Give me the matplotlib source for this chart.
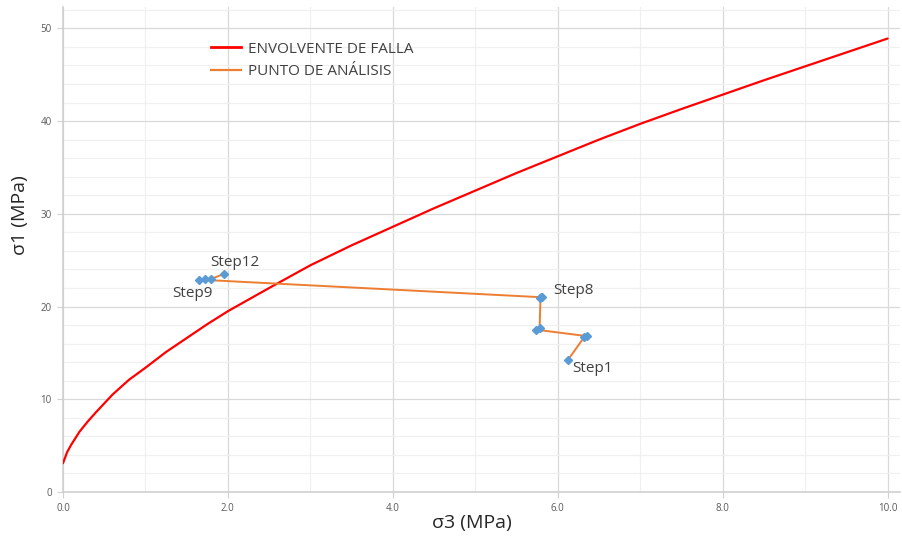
import matplotlib
matplotlib.use("Agg")
import matplotlib.pyplot as plt
from matplotlib.lines import Line2D
from matplotlib.ticker import MultipleLocator, FormatStrFormatter

plt.rcParams['font.family'] = ['Open Sans', 'DejaVu Sans']

# Failure envelope (sigma3, sigma1) in MPa
env_s3 = [0.0, 0.05, 0.1, 0.2, 0.3, 0.4, 0.6, 0.8, 1.0, 1.25, 1.5, 1.75, 2.0, 2.5, 3.0,
          3.5, 4.0, 4.5, 5.0, 5.5, 6.0, 6.5, 7.0, 7.5, 8.0, 8.5, 9.0, 9.5, 10.0]
env_s1 = [3.1, 4.3, 5.1, 6.5, 7.6, 8.6, 10.5, 12.1, 13.4, 15.1, 16.6, 18.1, 19.5, 22.0, 24.45,
          26.6, 28.6, 30.6, 32.5, 34.4, 36.2, 38.0, 39.7, 41.3, 42.85, 44.4, 45.9, 47.4, 48.9]

# Analysis points, Step1 .. Step12
pt_s3 = [6.12, 6.32, 6.36, 5.74, 5.78, 5.79, 5.80, 5.81, 1.65, 1.72, 1.80, 1.95]
pt_s1 = [14.2, 16.7, 16.8, 17.5, 17.7, 20.9, 21.0, 21.0, 22.9, 22.95, 23.0, 23.5]

step_labels = {0: "Step1", 7: "Step8", 8: "Step9", 11: "Step12"}
# label offsets in pixels from the marker
label_offsets = {0: (5, -8), 7: (11, 7), 8: (-27, -14), 11: (-14, 12)}

fig = plt.figure(figsize=(9.02, 5.38), dpi=100)
ax = fig.add_axes([63 / 902, 1 - 492 / 538, 837 / 902, 485 / 538])

ax.plot(env_s3, env_s1, color="#FF0000", lw=1.6, zorder=3, solid_capstyle="round")
ax.plot(pt_s3, pt_s1, color="#ED7D31", lw=1.4, zorder=4,
        marker="D", markersize=4.2, markerfacecolor="#5B9BD5", markeredgecolor="#5B9BD5")

for i, txt in step_labels.items():
    dx, dy = label_offsets[i]
    ax.annotate(txt, (pt_s3[i], pt_s1[i]), xytext=(dx, dy), textcoords="offset pixels",
                fontsize=11, color="#404040", ha="left", va="center", zorder=5)

ax.set_xlim(0, 10.15)
ax.set_ylim(0, 52.3)
ax.xaxis.set_major_locator(MultipleLocator(2))
ax.xaxis.set_minor_locator(MultipleLocator(1))
ax.yaxis.set_major_locator(MultipleLocator(10))
ax.yaxis.set_minor_locator(MultipleLocator(2))
ax.xaxis.set_major_formatter(FormatStrFormatter("%.1f"))
ax.yaxis.set_major_formatter(FormatStrFormatter("%d"))

ax.grid(which="major", color="#D9D9D9", lw=0.9, zorder=0)
ax.grid(which="minor", color="#F0F0F0", lw=0.9, zorder=0)
ax.set_axisbelow(True)

for side in ["top", "right"]:
    ax.spines[side].set_visible(False)
for side in ["left", "bottom"]:
    ax.spines[side].set_color("#D0D0D0")
    ax.spines[side].set_linewidth(1.2)

ax.tick_params(which="major", length=4, color="#D0D0D0", labelsize=7, labelcolor="#595959", pad=4)
ax.tick_params(which="minor", length=0)

ax.set_xlabel("σ3 (MPa)", fontsize=14, color="#262626")
ax.set_ylabel("σ1 (MPa)", fontsize=14, color="#262626")
ax.xaxis.set_label_coords((472 - 63) / 837, (492 - 523) / 485)
ax.xaxis.label.set_va("center")
ax.yaxis.set_label_coords((20 - 63) / 837, (492 - 215) / 485)
ax.yaxis.label.set_va("center")

handles = [Line2D([], [], color="#FF0000", lw=2),
           Line2D([], [], color="#ED7D31", lw=1.6)]
leg = fig.legend(handles, ["ENVOLVENTE DE FALLA", "PUNTO DE ANÁLISIS"],
                 loc="upper left", bbox_to_anchor=(197 / 902, 1 - 28 / 538),
                 frameon=False, fontsize=11, handlelength=1.96, handletextpad=0.45,
                 labelspacing=0.5, labelcolor="#404040")

fig.savefig("out.png", dpi=100)
